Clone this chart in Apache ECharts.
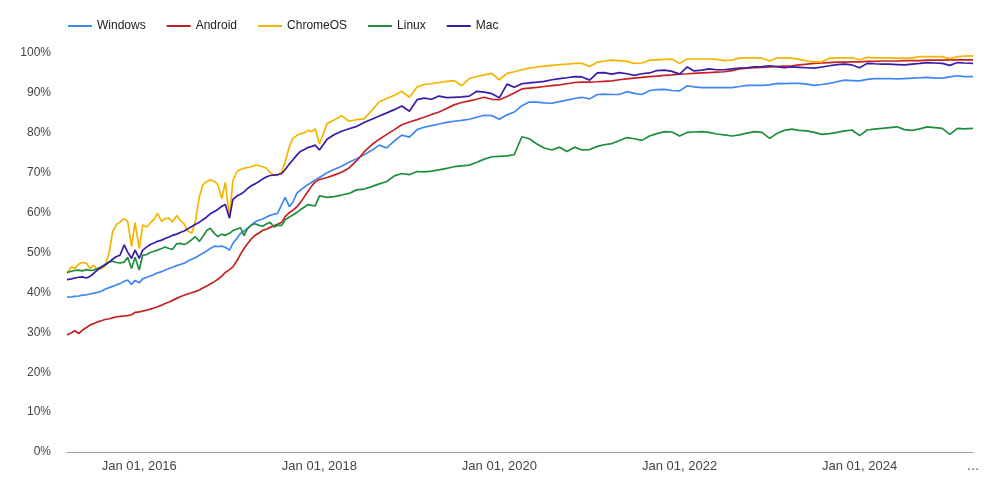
<!DOCTYPE html>
<html>
<head>
<meta charset="utf-8">
<script src="https://cdn.jsdelivr.net/npm/echarts@6/dist/echarts.min.js"></script>
<style>
  html, body { margin: 0; padding: 0; background: #fff; }
  #chart { width: 1000px; height: 490px; }
</style>
</head>
<body>
<div id="chart"></div>
<script>
// sample dates (half-monthly until 2017, monthly afterwards)
const dates = [
  '2015-03-14',
  '2015-04-01', '2015-04-15', '2015-05-01', '2015-05-15', '2015-06-01', '2015-06-15',
  '2015-07-01', '2015-07-15', '2015-08-01', '2015-08-15', '2015-09-01', '2015-09-15',
  '2015-10-01', '2015-10-15', '2015-11-01', '2015-11-15', '2015-12-01', '2015-12-15',
  '2016-01-01', '2016-01-15', '2016-02-01', '2016-02-15', '2016-03-01', '2016-03-15',
  '2016-04-01', '2016-04-15', '2016-05-01', '2016-05-15', '2016-06-01', '2016-06-15',
  '2016-07-01', '2016-07-15', '2016-08-01', '2016-08-15', '2016-09-01', '2016-09-15',
  '2016-10-01', '2016-10-15', '2016-11-01', '2016-11-15', '2016-12-01', '2016-12-15',
  '2017-01-01', '2017-01-15', '2017-02-01', '2017-02-15', '2017-03-01', '2017-03-15',
  '2017-04-01', '2017-04-15', '2017-05-01', '2017-05-15', '2017-06-01', '2017-06-15',
  '2017-07-01', '2017-07-15', '2017-08-01', '2017-08-15', '2017-09-01', '2017-09-15',
  '2017-10-01', '2017-10-15', '2017-11-01', '2017-11-15', '2017-12-01', '2017-12-15',
  '2018-01-01', '2018-02-01', '2018-03-01', '2018-04-01', '2018-05-01', '2018-06-01',
  '2018-07-01', '2018-08-01', '2018-09-01', '2018-10-01', '2018-11-01', '2018-12-01',
  '2019-01-01', '2019-02-01', '2019-03-01', '2019-04-01', '2019-05-01', '2019-06-01',
  '2019-07-01', '2019-08-01', '2019-09-01', '2019-10-01', '2019-11-01', '2019-12-01',
  '2020-01-01', '2020-02-01', '2020-03-01', '2020-04-01', '2020-05-01', '2020-06-01',
  '2020-07-01', '2020-08-01', '2020-09-01', '2020-10-01', '2020-11-01', '2020-12-01',
  '2021-01-01', '2021-02-01', '2021-03-01', '2021-04-01', '2021-05-01', '2021-06-01',
  '2021-07-01', '2021-08-01', '2021-09-01', '2021-10-01', '2021-11-01', '2021-12-01',
  '2022-01-01', '2022-02-01', '2022-03-01', '2022-04-01', '2022-05-01', '2022-06-01',
  '2022-07-01', '2022-08-01', '2022-09-01', '2022-10-01', '2022-11-01', '2022-12-01',
  '2023-01-01', '2023-02-01', '2023-03-01', '2023-04-01', '2023-05-01', '2023-06-01',
  '2023-07-01', '2023-08-01', '2023-09-01', '2023-10-01', '2023-11-01', '2023-12-01',
  '2024-01-01', '2024-02-01', '2024-03-01', '2024-04-01', '2024-05-01', '2024-06-01',
  '2024-07-01', '2024-08-01', '2024-09-01', '2024-10-01', '2024-11-01', '2024-12-01',
  '2025-01-01', '2025-02-01', '2025-03-01', '2025-04-05'
];

// % of pages loaded over HTTPS, per platform
const windows = [
  38.8, 38.9, 39.0, 39.1, 39.3, 39.4, 39.6, 39.8, 40.0, 40.3,
  40.8, 41.2, 41.5, 41.9, 42.2, 42.8, 43.1, 42.0, 43.0, 42.4,
  43.4, 43.8, 44.1, 44.5, 44.9, 45.2, 45.6, 46.0, 46.3, 46.7,
  47.0, 47.3, 47.8, 48.3, 48.7, 49.3, 49.8, 50.4, 51.0, 51.6,
  51.5, 51.6, 51.3, 50.6, 52.3, 53.6, 54.8, 55.4, 56.0, 56.9,
  57.7, 58.1, 58.4, 58.9, 59.3, 59.6, 59.8, 62.0, 63.8, 61.5,
  62.6, 64.8, 65.6, 66.4, 67.0, 67.6, 68.2, 68.8, 70.0, 70.8,
  71.6, 72.6, 73.5, 74.5, 75.6, 76.9, 76.2, 78.0, 79.4, 78.9,
  80.8, 81.4, 81.8, 82.2, 82.6, 82.9, 83.1, 83.4, 83.9, 84.4,
  84.3, 83.4, 84.5, 85.2, 86.8, 87.7, 87.7, 87.5, 87.4, 87.8,
  88.2, 88.6, 88.9, 88.5, 89.6, 89.7, 89.6, 89.6, 90.3, 89.9,
  89.6, 90.6, 90.8, 90.9, 90.6, 90.5, 91.8, 91.5, 91.3, 91.3,
  91.3, 91.3, 91.3, 91.6, 91.9, 91.9, 91.9, 92.0, 92.4, 92.3,
  92.4, 92.4, 92.2, 91.9, 92.1, 92.4, 92.8, 93.2, 93.1, 93.0,
  93.4, 93.6, 93.6, 93.6, 93.5, 93.6, 93.7, 93.8, 93.9, 93.7,
  93.7, 94.0, 94.3, 94.1, 94.1
];
const android = [
  29.3, 29.9, 30.4, 29.7, 30.5, 31.2, 31.8, 32.2, 32.6, 32.9,
  33.2, 33.4, 33.6, 33.9, 34.0, 34.1, 34.2, 34.4, 35.0, 35.1,
  35.3, 35.6, 35.8, 36.1, 36.4, 36.8, 37.2, 37.6, 38.0, 38.5,
  38.9, 39.3, 39.6, 39.9, 40.2, 40.6, 41.1, 41.6, 42.1, 42.7,
  43.3, 44.1, 45.0, 45.7, 46.4, 48.0, 49.6, 51.0, 52.2, 53.5,
  54.3, 54.9, 55.5, 55.9, 56.3, 56.7, 57.1, 57.6, 59.0, 60.0,
  60.6, 61.4, 62.5, 64.0, 65.3, 66.7, 67.7, 68.3, 68.8, 69.4,
  70.1, 71.2, 73.0, 75.2, 77.0, 78.4, 79.6, 80.8, 82.0, 82.7,
  83.3, 83.9, 84.6, 85.2, 86.1, 87.0, 87.6, 88.0, 88.4, 88.9,
  88.4, 88.3, 89.1, 90.0, 91.0, 91.2, 91.4, 91.6, 91.8, 92.0,
  92.3, 92.6, 92.7, 92.7, 92.8, 92.9, 93.0, 93.3, 93.5, 93.7,
  93.9, 94.1, 94.2, 94.4, 94.5, 94.7, 94.8, 94.9, 95.0, 95.1,
  95.2, 95.3, 95.6, 96.0, 96.2, 96.3, 96.4, 96.5, 96.6, 96.7,
  96.8, 97.0, 97.2, 97.4, 97.5, 97.6, 97.7, 97.7, 97.8, 97.8,
  97.9, 97.9, 98.0, 98.0, 98.0, 98.1, 98.1, 98.1, 98.2, 98.2,
  98.2, 98.3, 98.3, 98.3, 98.3
];
const chromeos = [
  44.8, 46.4, 46.0, 47.1, 47.5, 47.3, 46.0, 46.8, 45.6, 46.0,
  46.6, 50.0, 55.2, 57.0, 57.6, 58.5, 57.8, 51.5, 57.5, 51.0,
  56.9, 56.4, 57.4, 58.3, 59.8, 57.8, 58.5, 58.6, 57.6, 59.3,
  58.1, 57.2, 55.5, 54.8, 57.5, 64.0, 67.0, 67.8, 68.2, 67.8,
  67.0, 63.5, 67.6, 58.8, 68.0, 70.3, 70.8, 71.1, 71.3, 71.5,
  71.9, 71.8, 71.5, 71.1, 70.0, 69.4, 69.3, 70.2, 72.8, 76.5,
  78.6, 79.3, 79.8, 80.0, 80.6, 80.3, 81.0, 77.2, 82.3, 83.2,
  84.3, 82.9, 83.3, 83.5, 85.6, 87.8, 88.6, 89.4, 90.4, 88.9,
  91.5, 92.1, 92.3, 92.6, 92.9, 93.1, 91.8, 93.6, 94.1, 94.5,
  94.9, 93.3, 94.9, 95.3, 95.8, 96.2, 96.5, 96.7, 96.9, 97.1,
  97.2, 97.4, 97.4, 96.6, 97.7, 98.0, 98.2, 98.1, 97.9, 97.4,
  97.5, 98.2, 98.3, 98.4, 98.5, 97.4, 98.5, 98.5, 98.5, 98.5,
  98.4, 98.1, 98.2, 98.7, 98.8, 98.8, 98.7, 98.0, 98.8, 98.8,
  98.7, 98.4, 98.0, 97.8, 97.8, 98.7, 98.8, 98.8, 98.8, 98.3,
  98.9, 98.8, 98.8, 98.8, 98.7, 98.7, 98.7, 99.1, 99.1, 99.1,
  99.1, 98.6, 99.1, 99.2, 99.3
];
const linux = [
  45.0, 45.3, 45.5, 45.6, 45.4, 45.7, 45.5, 45.6, 46.0, 46.4,
  47.0, 47.6, 47.8, 47.5, 47.4, 47.6, 48.8, 46.0, 48.8, 45.6,
  49.3, 49.5, 50.0, 50.3, 50.6, 51.0, 51.4, 51.0, 50.8, 52.2,
  52.3, 52.0, 52.4, 53.2, 54.0, 52.8, 54.0, 55.5, 56.1, 54.8,
  54.0, 54.6, 54.3, 54.8, 55.5, 55.9, 56.2, 54.2, 56.0, 56.9,
  57.2, 56.8, 56.6, 57.2, 57.6, 56.4, 56.8, 56.8, 58.2, 58.9,
  59.4, 60.0, 60.7, 61.4, 62.0, 61.8, 61.7, 64.2, 63.8, 64.0,
  64.4, 64.8, 65.7, 65.9, 66.5, 67.2, 67.8, 69.2, 69.8, 69.5,
  70.3, 70.2, 70.4, 70.7, 71.1, 71.5, 71.7, 71.9, 72.6, 73.4,
  74.0, 74.1, 74.2, 74.5, 79.0, 78.5, 77.2, 76.2, 75.7, 76.4,
  75.3, 76.4, 75.7, 75.8, 76.6, 77.0, 77.3, 78.0, 78.8, 78.5,
  78.1, 79.2, 79.8, 80.3, 80.2, 79.2, 80.1, 80.2, 80.3, 80.1,
  79.7, 79.5, 79.2, 79.5, 79.9, 80.3, 80.1, 78.6, 79.9, 80.6,
  80.9, 80.6, 80.5, 80.1, 79.6, 79.8, 80.1, 80.5, 80.7, 79.3,
  80.7, 80.9, 81.1, 81.3, 81.5, 80.8, 80.6, 81.0, 81.5, 81.3,
  81.1, 79.6, 81.1, 81.0, 81.1
];
const mac = [
  43.2, 43.4, 43.6, 43.8, 43.9, 43.6, 44.0, 44.8, 45.6, 46.4,
  46.8, 47.6, 48.3, 49.0, 49.3, 51.9, 50.1, 48.5, 50.6, 48.5,
  50.6, 51.4, 52.0, 52.4, 52.8, 53.1, 53.5, 53.9, 54.3, 54.6,
  55.0, 55.4, 55.9, 56.5, 57.0, 57.6, 58.2, 58.9, 59.7, 60.3,
  60.8, 61.6, 62.0, 58.6, 63.3, 64.2, 64.6, 65.2, 66.0, 66.8,
  67.2, 67.8, 68.4, 69.0, 69.3, 69.4, 69.5, 69.8, 70.8, 72.2,
  73.2, 74.4, 75.3, 75.8, 76.3, 76.6, 76.9, 75.7, 78.4, 79.5,
  80.4, 81.0, 81.6, 82.6, 83.4, 84.2, 85.0, 85.8, 86.7, 85.4,
  88.3, 88.7, 88.4, 89.2, 88.8, 88.9, 89.0, 89.2, 90.4, 90.2,
  89.8, 88.8, 92.2, 91.4, 92.3, 92.5, 92.7, 92.9, 93.3, 93.6,
  93.8, 94.1, 94.0, 93.2, 95.0, 95.1, 94.7, 95.1, 94.8, 94.4,
  94.8, 95.0, 95.6, 95.7, 95.4, 94.7, 96.5, 95.5, 95.7, 96.0,
  95.8, 95.8, 96.0, 96.2, 96.3, 96.5, 96.6, 96.8, 96.6, 96.3,
  96.5, 96.4, 96.3, 96.2, 96.5, 96.8, 97.1, 97.2, 97.0, 96.3,
  97.4, 97.3, 97.2, 97.2, 97.1, 97.0, 97.2, 97.4, 97.6, 97.5,
  97.4, 96.9, 97.6, 97.5, 97.4
];

const seriesNames = ['Windows', 'Android', 'ChromeOS', 'Linux', 'Mac'];
const seriesColors = ['#4285f4', '#c5221f', '#f4b400', '#1e8e3e', '#3c1aa8'];
const xTickDates = ['2016-01-01', '2018-01-01', '2020-01-01', '2022-01-01', '2024-01-01'];
const monthNames = ['Jan', 'Feb', 'Mar', 'Apr', 'May', 'Jun', 'Jul', 'Aug', 'Sep', 'Oct', 'Nov', 'Dec'];

const ts = s => echarts.number.parseDate(s).getTime();
const minTs = ts(dates[0]);
const maxTs = ts(dates[dates.length - 1]);

const chart = echarts.init(document.getElementById('chart'), null, { renderer: 'canvas' });

const seriesData = [windows, android, chromeos, linux, mac];
const series = seriesNames.map((name, i) => ({
  name: name,
  type: 'line',
  showSymbol: false,
  symbol: 'none',
  lineStyle: { width: 1.7, color: seriesColors[i] },
  itemStyle: { color: seriesColors[i] },
  data: dates.map((d, j) => [ts(d), seriesData[i][j]])
}));

// x is a plain value axis holding timestamps, so the label positions can be pinned
chart.setOption({
  animation: false,
  textStyle: { fontFamily: 'Liberation Sans, Arial, sans-serif' },
  legend: {
    data: seriesNames,
    left: 63,
    top: 15,
    icon: 'rect',
    itemWidth: 24,
    itemHeight: 2,
    itemGap: 21,
    textStyle: { fontSize: 12, color: '#222' }
  },
  grid: { left: 67, right: 27, top: 53, bottom: 38, containLabel: false },
  xAxis: {
    type: 'value',
    min: minTs,
    max: maxTs,
    axisLine: { show: true, onZero: false, lineStyle: { color: '#9e9e9e', width: 1 } },
    axisTick: { show: false },
    splitLine: { show: false },
    axisLabel: {
      customValues: xTickDates.map(ts).concat([maxTs]),
      margin: 8,
      fontSize: 13,
      color: '#444',
      formatter: function (value) {
        if (value >= maxTs) return '…';
        const d = new Date(value);
        const day = String(d.getDate()).padStart(2, '0');
        return monthNames[d.getMonth()] + ' ' + day + ', ' + d.getFullYear();
      }
    }
  },
  yAxis: {
    type: 'value',
    min: 0,
    max: 100,
    interval: 10,
    axisLine: { show: false },
    axisTick: { show: false },
    splitLine: { show: false },
    axisLabel: { formatter: '{value}%', fontSize: 12, color: '#444', margin: 16 }
  },
  series: series
});
</script>
</body>
</html>
